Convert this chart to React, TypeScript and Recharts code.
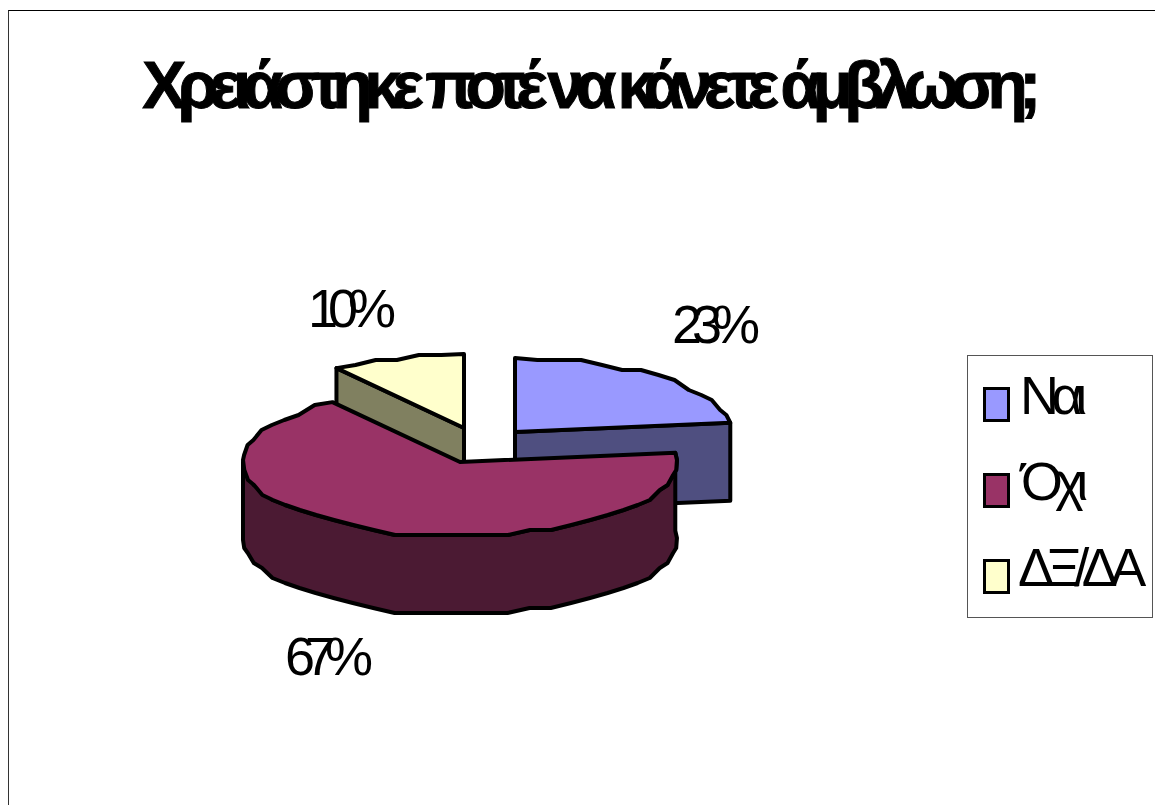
import React from "react";
import { PieChart, Pie, Legend } from "recharts";

const TITLE = "Χρειάστηκε ποτέ να κάνετε άμβλωση;";
const ANSWERS = ["Ναι", "Όχι", "ΔΞ/ΔΑ"];
const SHARES = [23, 67, 10];
const TOP_COLORS = ["#9999FF", "#993366", "#FFFFCC"];
const SIDE_COLORS = ["#4F4F80", "#4B1A33", "#808060"];

const FONT = "'Liberation Sans', Arial, sans-serif";
const LINE = 4;
const RADIUS = 217;
const SQUASH = 74 / 217; // vertical flattening of the tilted disc
const DEPTH = 78;
const STEP_Y = 5; // rim heights snap to this step, which gives the faceted outline

// how far each slice is pulled out of the pie
const EXPLODE = [
  { dx: 55, dy: -30 },
  { dx: 0, dy: 0 },
  { dx: 4, dy: -34 },
];
const LABEL_SPOTS = [
  { x: 711, y: 343 },
  { x: 324, y: 675 },
  { x: 347, y: 327 },
];
const LEGEND_TEXT_LEFT = [52, 53, 50];

const pieData = ANSWERS.map((name, i) => ({
  name,
  value: SHARES[i],
  fill: TOP_COLORS[i],
}));

const rad = (deg: number) => (deg * Math.PI) / 180;

// clockwise-from-top angle to a point on the squashed rim
const rim = (cx: number, cy: number, r: number, theta: number) => ({
  x: cx + r * Math.sin(rad(theta)),
  y: cy - r * SQUASH * Math.cos(rad(theta)),
});

// rim points between two angles; both ends stay exact, the rest snap in height
const rimPoints = (cx: number, cy: number, r: number, from: number, to: number) => {
  const steps = Math.max(2, Math.round((to - from) / 6));
  const points = [];
  for (let i = 0; i <= steps; i++) {
    const p = rim(cx, cy, r, from + ((to - from) * i) / steps);
    if (i === 0 || i === steps) points.push(p);
    else points.push({ x: p.x, y: Math.round(p.y / STEP_Y) * STEP_Y });
  }
  return points;
};

const toPath = (points: { x: number; y: number }[]) =>
  points.map((p, i) => `${i === 0 ? "M" : "L"}${p.x},${p.y}`).join(" ") + " Z";

const Slice3D = (props: any) => {
  const { cx, cy, outerRadius: r, startAngle, endAngle, name } = props;
  const index = ANSWERS.indexOf(name);
  const ox = cx + EXPLODE[index].dx;
  const oy = cy + EXPLODE[index].dy;
  const from = 90 - startAngle;
  const to = 90 - endAngle;
  const edge = rimPoints(ox, oy, r, from, to);
  const a = edge[0];
  const b = edge[edge.length - 1];
  const stroke = { stroke: "#000", strokeWidth: LINE, strokeLinejoin: "round" as const };

  const top = toPath([{ x: ox, y: oy }, ...edge]);

  // front wall: the part of the rim facing the viewer
  let wall = null;
  if (index === 1) {
    const front = rimPoints(ox, oy, r, from, 270);
    const lower = front.map((p) => ({ x: p.x, y: p.y + DEPTH })).reverse();
    wall = toPath([...front, ...lower]);
  }

  // cut face left open by pulling the slice out
  let cut = null;
  if (index === 0) {
    cut = toPath([{ x: ox, y: oy }, b, { x: b.x, y: b.y + DEPTH }, { x: ox, y: oy + DEPTH }]);
  } else if (index === 2) {
    cut = toPath([{ x: ox, y: oy }, a, { x: a.x, y: a.y + DEPTH }, { x: ox, y: oy + DEPTH }]);
  }

  return (
    <g>
      {cut && <path d={cut} fill={SIDE_COLORS[index]} {...stroke} />}
      {wall && <path d={wall} fill={SIDE_COLORS[index]} {...stroke} />}
      <path d={top} fill={TOP_COLORS[index]} {...stroke} />
    </g>
  );
};

// the big slice goes in its own layer so it covers the two pulled-out ones
const BackSlice = (props: any) => (props.name === ANSWERS[1] ? null : <Slice3D {...props} />);
const FrontSlice = (props: any) => (props.name === ANSWERS[1] ? <Slice3D {...props} /> : null);

const renderPercent = (props: any) => {
  const { index, percent } = props;
  const spot = LABEL_SPOTS[index];
  return (
    <text
      x={spot.x}
      y={spot.y}
      textAnchor="middle"
      fontFamily={FONT}
      fontSize={54}
      letterSpacing={-10}
      fill="#000"
    >
      {`${Math.round(percent * 100)}%`}
    </text>
  );
};

const AnswerLegend = ({ payload }: any) => {
  // both pie layers report their entries, keep one of each in answer order
  const entries = ANSWERS.map((answer) =>
    (payload || []).find((entry: any) => entry.value === answer)
  ).filter(Boolean);
  return (
    <div
      style={{
        width: 184,
        height: 261,
        background: "#fff",
        border: "1px solid #555",
        position: "relative",
        fontFamily: FONT,
        fontSize: 54,
        lineHeight: "54px",
        letterSpacing: -7.5,
        color: "#000",
      }}
    >
      {entries.map((entry: any, i: number) => (
        <div key={entry.value}>
          <div
            style={{
              position: "absolute",
              left: 15,
              top: 31 + i * 86,
              width: 21,
              height: 29,
              background: entry.color,
              border: "3.5px solid #000",
            }}
          />
          <div
            style={{
              position: "absolute",
              left: LEGEND_TEXT_LEFT[i],
              top: 12 + i * 86,
              whiteSpace: "nowrap",
            }}
          >
            {entry.value}
          </div>
        </div>
      ))}
    </div>
  );
};

const MARGIN = { top: 0, right: 0, bottom: 0, left: 0 };

export default function App() {
  return (
    <div
      style={{
        position: "absolute",
        left: 0,
        top: 0,
        width: 1155,
        height: 805,
        overflow: "hidden",
        background: "#fff",
      }}
    >
      <div
        style={{
          position: "absolute",
          left: 8,
          top: 10,
          width: 1200,
          height: 900,
          borderLeft: "1px solid #333",
          borderTop: "1px solid #000",
        }}
      />
      <div
        style={{
          position: "absolute",
          left: 0,
          top: 47,
          width: 1175,
          textAlign: "center",
          fontFamily: FONT,
          fontWeight: "bold",
          fontSize: 66,
          lineHeight: "76px",
          letterSpacing: -8.5,
          WebkitTextStroke: "1px #000",
          whiteSpace: "nowrap",
        }}
      >
        {TITLE}
      </div>
      <div style={{ position: "absolute", left: 0, top: 0 }}>
        <PieChart width={1155} height={805} margin={MARGIN}>
          <Pie
            data={pieData}
            dataKey="value"
            nameKey="name"
            cx={460}
            cy={462}
            outerRadius={RADIUS}
            startAngle={90}
            endAngle={-270}
            stroke="none"
            shape={BackSlice}
            label={renderPercent}
            labelLine={false}
            isAnimationActive={false}
          />
          <Pie
            data={pieData}
            dataKey="value"
            nameKey="name"
            cx={460}
            cy={462}
            outerRadius={RADIUS}
            startAngle={90}
            endAngle={-270}
            stroke="none"
            shape={FrontSlice}
            legendType="none"
            isAnimationActive={false}
          />
          <Legend
            content={<AnswerLegend />}
            wrapperStyle={{ left: 967, top: 355, width: 186, height: 263, bottom: "auto" }}
          />
        </PieChart>
      </div>
    </div>
  );
}
